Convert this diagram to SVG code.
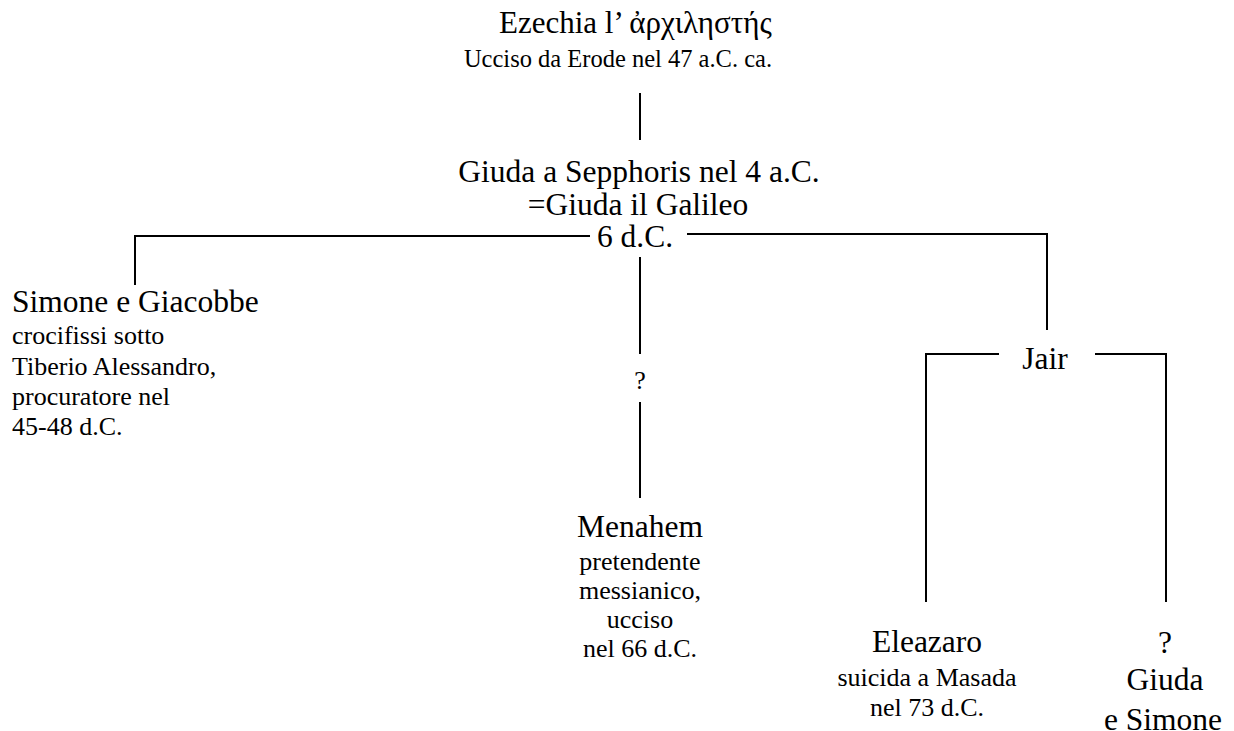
<svg xmlns="http://www.w3.org/2000/svg" width="1234" height="731" viewBox="0 0 1234 731">
<style>
text{font-family:"Liberation Serif","DejaVu Serif",serif;fill:#000}
.big{font-size:31.5px}
.sm{font-size:26px}
.c{text-anchor:middle}
.ln{stroke:#000;stroke-width:2;fill:none}
</style>
<rect width="1234" height="731" fill="#fff"/>
<g id="connectors">
<line class="ln" x1="640" y1="93" x2="640" y2="140"/>
<polyline class="ln" points="590,236 135,236 135,285"/>
<polyline class="ln" points="687,234 1047,234 1047,330"/>
<line class="ln" x1="640" y1="257" x2="640" y2="354"/>
<line class="ln" x1="640" y1="402" x2="640" y2="498"/>
<polyline class="ln" points="999,354 926,354 926,602"/>
<polyline class="ln" points="1095,354 1166,354 1166,602"/>
</g>
<g id="ezechia">
<text x="499" y="33" style="font-size:31px">Ezechia l’ ἀρχιληστής</text>
<text x="618" y="67" class="c" style="font-size:24.5px">Ucciso da Erode nel 47 a.C. ca.</text>
</g>
<g id="giuda">
<text x="639" y="182" class="big c">Giuda a Sepphoris nel 4 a.C.</text>
<text x="638" y="215" class="big c">=Giuda il Galileo</text>
<text x="635" y="247" class="big c">6 d.C.</text>
</g>
<g id="simone">
<text x="12" y="312" class="big">Simone e Giacobbe</text>
<text x="12" y="344" class="sm">crocifissi sotto</text>
<text x="12" y="375" class="sm">Tiberio Alessandro,</text>
<text x="12" y="405" class="sm">procuratore nel</text>
<text x="12" y="435" class="sm">45-48 d.C.</text>
</g>
<g id="q1">
<text x="640" y="389" class="sm c">?</text>
</g>
<g id="menahem">
<text x="640" y="537" class="big c">Menahem</text>
<text x="640" y="570" class="sm c">pretendente</text>
<text x="640" y="599" class="sm c">messianico,</text>
<text x="640" y="628" class="sm c">ucciso</text>
<text x="640" y="657" class="sm c">nel 66 d.C.</text>
</g>
<g id="jair">
<text x="1045" y="369" class="big c">Jair</text>
</g>
<g id="eleazaro">
<text x="927" y="652" class="big c">Eleazaro</text>
<text x="927" y="686" class="sm c">suicida a Masada</text>
<text x="927" y="716" class="sm c">nel 73 d.C.</text>
</g>
<g id="giuda-simone">
<text x="1165" y="653" class="big c">?</text>
<text x="1165" y="690" class="big c">Giuda</text>
<text x="1163" y="730" class="big c">e Simone</text>
</g>
</svg>
